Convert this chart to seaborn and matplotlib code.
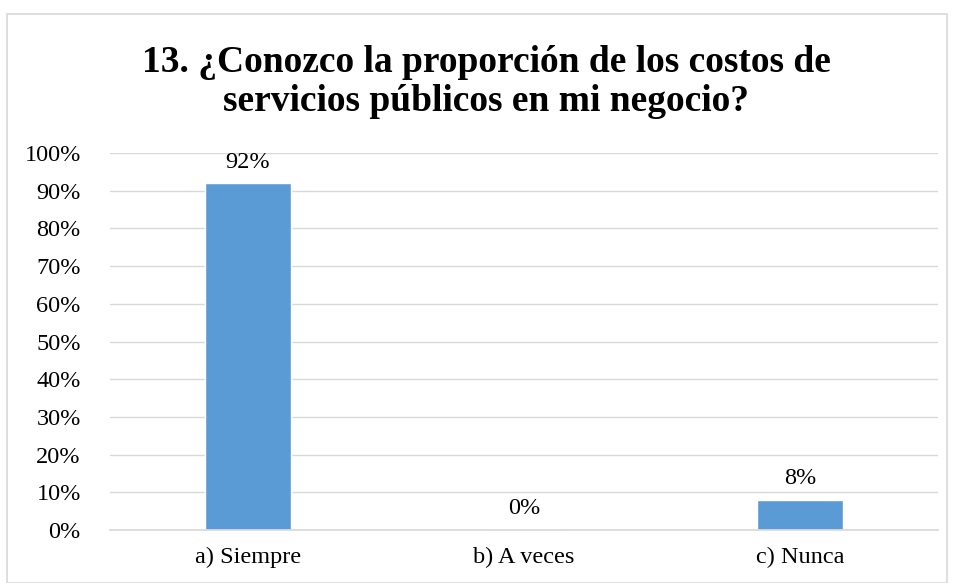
import matplotlib
matplotlib.use("Agg")
import matplotlib.pyplot as plt
import seaborn as sns
import pandas as pd
from matplotlib.patches import Rectangle

categories = ["a) Siempre", "b) A veces", "c) Nunca"]
values = [0.92, 0.0, 0.08]
labels = ["92%", "0%", "8%"]
yticks = [0, 0.1, 0.2, 0.3, 0.4, 0.5, 0.6, 0.7, 0.8, 0.9, 1.0]
ytick_labels = ["0%", "10%", "20%", "30%", "40%", "50%", "60%", "70%", "80%", "90%", "100%"]
title = "13. ¿Conozco la proporción de los costos de\nservicios públicos en mi negocio?"

sns.set_theme(style="white")
plt.rcParams['font.family'] = ['Liberation Serif', 'DejaVu Serif']

df = pd.DataFrame({"cat": categories, "val": values})
fig = plt.figure(figsize=(9.54, 5.83), dpi=100)
ax = fig.add_axes([110/954, 1-530/583, 828/954, (530-153)/583])
sns.barplot(data=df, x="cat", y="val", color="#5B9BD5", width=0.315, ax=ax, saturation=1)

ax.set_ylim(0, 1.0)
ax.set_xlim(-0.5, 2.5)
ax.set_yticks(yticks)
ax.set_yticklabels(ytick_labels, fontsize=17.5, color="#000000")
ax.tick_params(axis='x', labelsize=17.5, colors="#000000", length=0, pad=12)
ax.tick_params(axis='y', length=0, pad=21)
ax.set_xlabel("")
ax.set_ylabel("")
ax.yaxis.grid(True, color="#D9D9D9", linewidth=1)
ax.set_axisbelow(True)
for s in ["top", "right", "left"]:
    ax.spines[s].set_visible(False)
ax.spines["bottom"].set_color("#D9D9D9")

for i, (v, t) in enumerate(zip(values, labels)):
    ax.text(i, v + 0.028, t, ha="center", va="bottom", fontsize=17.5, color="#000000")

fig.text(486/954, 1-82/583, title, ha="center", va="center", fontsize=27, fontweight="bold",
         linespacing=1.18, color="#000000")

fig.patches.append(Rectangle((7/954, 0), 940/954, 1-14/583, transform=fig.transFigure,
                             fill=False, edgecolor="#D9D9D9", linewidth=1.2))

fig.savefig("out.png", dpi=100)
